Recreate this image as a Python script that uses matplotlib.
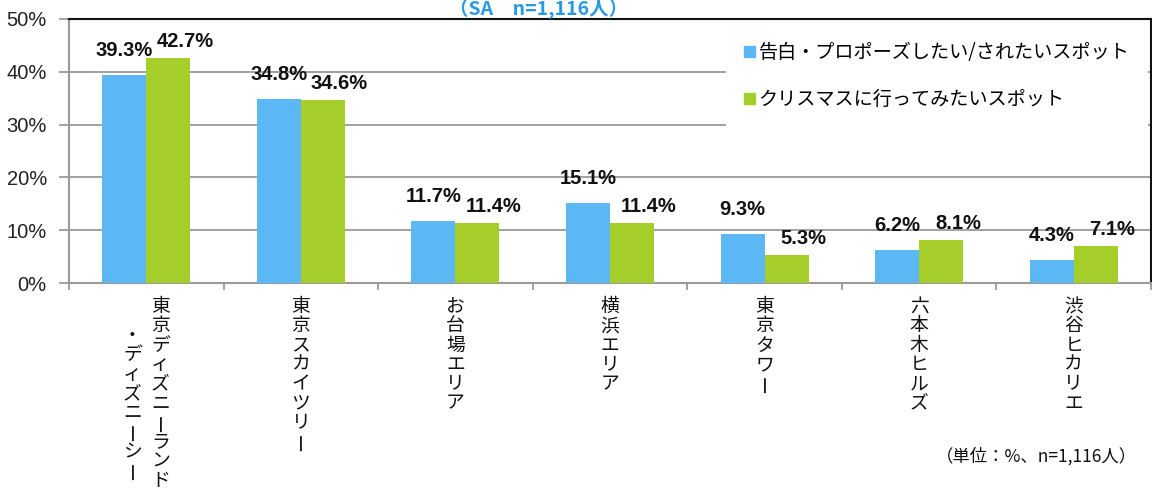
import matplotlib
matplotlib.use("Agg")
import matplotlib.pyplot as plt
import matplotlib.transforms as mtransforms
from matplotlib.patches import Patch
import numpy as np

categories = [
    ["東京ディズニーランド", "・ディズニーシー"],
    ["東京スカイツリー"],
    ["お台場エリア"],
    ["横浜エリア"],
    ["東京タワー"],
    ["六本木ヒルズ"],
    ["渋谷ヒカリエ"],
]
series_names = ["告白・プロポーズしたい/されたいスポット", "クリスマスに行ってみたいスポット"]
confession = [39.3, 34.8, 11.7, 15.1, 9.3, 6.2, 4.3]
christmas = [42.7, 34.6, 11.4, 11.4, 5.3, 8.1, 7.1]
yticks = [0, 10, 20, 30, 40, 50]
ytick_labels = ["0%", "10%", "20%", "30%", "40%", "50%"]
title_text = "（SA　n=1,116人）"
note_text = "（単位：%、n=1,116人）"

BLUE = "#5BB8F5"
GREEN = "#A6CE2A"
JP = ["Noto Sans CJK JP", "DejaVu Sans"]
NUM = ["Liberation Sans", "DejaVu Sans"]

fig = plt.figure(figsize=(11.52, 4.90), dpi=100)
ax = fig.add_axes([69/1152, 1-283/490, (1151-69)/1152, (283-19)/490])

x = np.arange(len(categories))
w = 0.285
ax.bar(x - w/2, confession, w, color=BLUE, zorder=3)
ax.bar(x + w/2, christmas, w, color=GREEN, zorder=3)

ax.set_ylim(0, 50)
ax.set_xlim(-0.5, len(categories) - 0.5)
ax.set_yticks(yticks)
ax.set_yticklabels(ytick_labels, family=NUM, fontsize=14.5, color="#222222")
ax.yaxis.grid(True, color="#9A9A9A", linewidth=1.3, zorder=0)
ax.set_axisbelow(True)
ax.tick_params(axis="y", length=7, width=1.3, color="#9A9A9A", pad=9)

ax.set_xticks(x)
ax.set_xticklabels([])
ax.tick_params(axis="x", which="major", length=0)
ax.set_xticks(np.arange(-0.5, len(categories), 1.0), minor=True)
ax.tick_params(axis="x", which="minor", length=5, width=1.3, color="#9A9A9A")

for s in ["left", "bottom"]:
    ax.spines[s].set_color("#9A9A9A")
    ax.spines[s].set_linewidth(1.5)
for s in ["top", "right"]:
    ax.spines[s].set_color("#111111")
    ax.spines[s].set_linewidth(1.5)

# value labels
for xi, v in zip(x, confession):
    t = mtransforms.offset_copy(ax.transData, fig=fig, x=0, y=11, units="points")
    ax.text(xi - w/2, v, f"{v:.1f}%", transform=t, ha="center", va="bottom",
            family=NUM, weight="bold", fontsize=14.5, color="#111111")
for xi, v in zip(x, christmas):
    t = mtransforms.offset_copy(ax.transData, fig=fig, x=12, y=5, units="points")
    ax.text(xi + w/2, v, f"{v:.1f}%", transform=t, ha="center", va="bottom",
            family=NUM, weight="bold", fontsize=14.5, color="#111111")

# vertical category labels
pitch = 19.3 * 72 / 100  # points per character
col_gap = 28 * 72 / 100
base = ax.get_xaxis_transform()
y0 = (283 - 297) / (283 - 19) - 0.036
for xi, lines in zip(x, categories):
    n = len(lines)
    for li, line in enumerate(lines):
        dx = ((n - 1) / 2 - li) * col_gap
        start = (len(lines[0]) - len(line)) / 2 * pitch + (0.5 * pitch if li > 0 else 0)
        for ci, ch in enumerate(line):
            t = mtransforms.offset_copy(base, fig=fig, x=dx, y=-(start + ci * pitch), units="points")
            rot = 90 if ch == "ー" else 0
            ax.text(xi, y0, ch, transform=t, ha="center", va="center", rotation=rot,
                    family=JP, fontsize=13.5, color="#111111", clip_on=False)

# legend
leg = ax.legend([Patch(color=BLUE), Patch(color=GREEN)], series_names,
                loc="upper left", bbox_to_anchor=(726/1152, 1 - 24/490),
                bbox_transform=fig.transFigure, prop={"family": JP, "size": 13.8},
                frameon=True, facecolor="white", edgecolor="none", framealpha=1,
                handlelength=0.55, handleheight=0.55, handletextpad=0.2,
                labelspacing=1.35, borderpad=0.95, borderaxespad=0, fancybox=False)
leg.get_frame().set_linewidth(0)
leg.set_zorder(5)

fig.text(539/1152, 1 - 15/490, title_text, ha="center", va="baseline",
         family=["Noto Sans CJK JP", "DejaVu Sans"], weight="bold", fontsize=14, color="#2A9AE0")
fig.text(1137/1152, 1 - 456/490, note_text, ha="right", va="center",
         family=JP, fontsize=12.5, color="#111111")

fig.savefig("out.png", dpi=100, facecolor="white")
